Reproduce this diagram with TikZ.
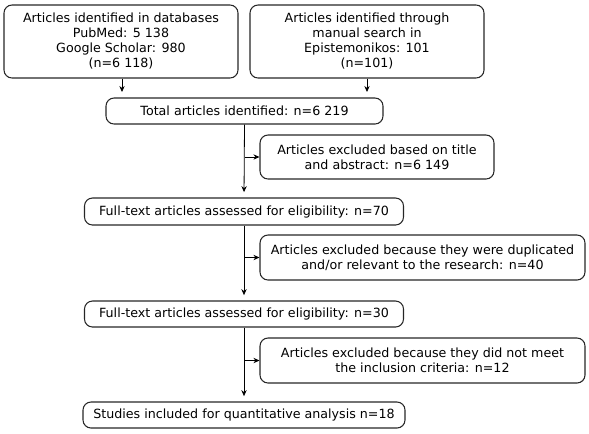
\documentclass[tikz,border=0pt]{standalone}
\usepackage{fontspec}
\setmainfont{DejaVu Sans}
\usepackage{tikz}
\usetikzlibrary{arrows.meta}
\tikzset{
  fcbox/.style={draw=black!85, line width=0.8pt, rounded corners=6pt, align=center,
    inner sep=2pt, font=\fontsize{9.5}{11.25}\selectfont},
  fcline/.style={line width=0.6pt, draw=black},
  fcarrow/.style={fcline, -{Stealth[length=4.5pt,width=4pt]}},
}
\begin{document}
\begin{tikzpicture}[x=0.75pt,y=-0.75pt]
\useasboundingbox (0,0) rectangle (589,433);
\node[fcbox, minimum width=175.5pt, minimum height=54.75pt] (srcdb) at (121,41.5)
  {Articles identified in databases\\PubMed: 5 138\\Google Scholar: 980\\(n=6 118)};
\node[fcbox, minimum width=175.5pt, minimum height=54.75pt] (srcman) at (367,41.5)
  {Articles identified through\\manual search in\\Epistemonikos: 101\\(n=101)};
\node[fcbox, minimum width=207.75pt, minimum height=19.5pt] (total) at (244.5,111)
  {Total articles identified: n=6 219};
\node[fcbox, minimum width=175.5pt, minimum height=33pt] (excl1) at (377,157)
  {Articles excluded based on title\\and abstract: n=6 149};
\node[fcbox, minimum width=239.25pt, minimum height=20.25pt] (full1) at (244,211.5)
  {Full-text articles assessed for eligibility: n=70};
\node[fcbox, minimum width=243.75pt, minimum height=33.75pt] (excl2) at (422.5,257.5)
  {Articles excluded because they were duplicated\\and/or relevant to the research: n=40};
\node[fcbox, minimum width=239.25pt, minimum height=19.5pt] (full2) at (244,314)
  {Full-text articles assessed for eligibility: n=30};
\node[fcbox, minimum width=243.75pt, minimum height=33.75pt] (excl3) at (422.5,360.5)
  {Articles excluded because they did not meet\\the inclusion criteria: n=12};
\node[fcbox, minimum width=241.5pt, minimum height=19.5pt] (incl) at (244,415)
  {Studies included for quantitative analysis n=18};
% free ends above the total box
\coordinate (dbend) at (122,92);
\coordinate (manend) at (367,92);
\draw[fcarrow] (srcdb.south -| dbend) -- (dbend);
\draw[fcarrow] (srcman.south -| manend) -- (manend);
% main trunk
\draw[fcarrow, shorten >=4pt] (total.south) -- (full1.north);
\draw[fcarrow, shorten >=4pt] (full1.south) -- (full2.north);
\draw[fcarrow, shorten >=4pt] (full2.south) -- (incl.north);
% exclusions
\draw[fcarrow] (total.south |- excl1.west) -- (excl1.west);
\draw[fcarrow] (full1.south |- excl2.west) -- (excl2.west);
\draw[fcarrow] (full2.south |- excl3.west) -- (excl3.west);
\end{tikzpicture}
\end{document}
